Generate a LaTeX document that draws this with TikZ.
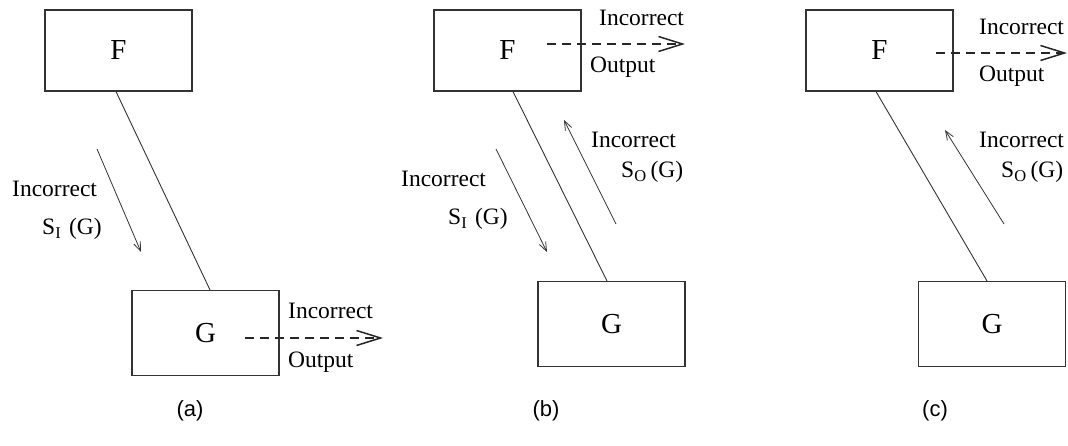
\documentclass[tikz,border=0pt]{standalone}
\usepackage{fontspec}
\setmainfont{Liberation Serif}
\setsansfont{Liberation Sans}
\usetikzlibrary{arrows.meta}
\begin{document}
\begin{tikzpicture}[x=1pt, y=-1pt, line cap=butt,
  fbox/.style={draw=black!80, line width=1.1pt, minimum width=147pt, minimum height=81pt, inner sep=0pt, font=\fontsize{29}{34}\selectfont},
  gbox/.style={fbox, minimum height=85pt},
  lbl/.style={anchor=base west, inner sep=0pt, font=\fontsize{23.5}{28}\selectfont},
  capt/.style={inner sep=0pt, font=\sffamily\fontsize{22}{26}\selectfont},
  link/.style={draw=black!80, line width=0.9pt},
  sig/.style={draw=black!80, line width=0.8pt, -{Straight Barb[length=9pt,width=7pt]}},
  outp/.style={draw=black!85, line width=1.1pt, dash pattern=on 9pt off 6pt, -{Straight Barb[length=24pt,width=15pt,line width=1.5pt]}}]
\useasboundingbox (0,0) rectangle (1068,446);
% (a) incorrect input to G
\begin{scope}
\node[fbox] (Fa) at (118.5,50.5) {F};
\node[gbox] (Ga) at (205.5,333) {G};
\draw[link] ([xshift=-2.5pt]Fa.south) -- ([xshift=4.5pt]Ga.north);
\coordinate (sia1) at (97,149);
\coordinate (sia2) at (141,252);
\draw[sig] (sia1) -- (sia2);
\node[lbl] (sial) at (12,197) {Incorrect};
\node[lbl] (sias) at (42,235) {S\textsubscript{I}\,\,(G)};
\coordinate (oa1) at (245,338);
\coordinate (oa2) at (383,338);
\draw[outp] (oa1) -- (oa2);
\node[lbl] (oal) at (288,319) {Incorrect};
\node[lbl] (oao) at (288,367) {Output};
\node[capt] (capa) at (190,411) {(a)};
\end{scope}
% (b) incorrect input and output of G
\begin{scope}[xshift=380pt]
\node[fbox] (Fb) at (127.5,50.5) {F};
\node[gbox] (Gb) at (231.5,324) {G};
\draw[link] ([xshift=5.5pt]Fb.south) -- ([xshift=-4.5pt]Gb.north);
\coordinate (sib1) at (116,149);
\coordinate (sib2) at (167,252);
\draw[sig] (sib1) -- (sib2);
\node[lbl] (sibl) at (21,187) {Incorrect};
\node[lbl] (sibs) at (68,225) {S\textsubscript{I}\,\,(G)};
\coordinate (sob1) at (236,224);
\coordinate (sob2) at (184,120);
\draw[sig] (sob1) -- (sob2);
\node[lbl] (sobl) at (211,148) {Incorrect};
\node[lbl] (sobs) at (241,178) {S\textsubscript{O}\,(G)};
\coordinate (ob1) at (167,44);
\coordinate (ob2) at (305,44);
\draw[outp] (ob1) -- (ob2);
\node[lbl] (obl) at (219,26) {Incorrect};
\node[lbl] (obo) at (210,73) {Output};
\node[capt] (capb) at (166,411) {(b)};
\end{scope}
% (c) incorrect output of G
\begin{scope}[xshift=700pt]
\node[fbox] (Fc) at (179.5,50.5) {F};
\node[gbox] (Gc) at (292,324) {G};
\draw[link] ([xshift=-3.5pt]Fc.south) -- ([xshift=-5pt]Gc.north);
\coordinate (soc1) at (304,224);
\coordinate (soc2) at (245,130);
\draw[sig] (soc1) -- (soc2);
\node[lbl] (socl) at (279,148) {Incorrect};
\node[lbl] (socs) at (301,178) {S\textsubscript{O}\,(G)};
\coordinate (oc1) at (236,53);
\coordinate (oc2) at (367,53);
\draw[outp] (oc1) -- (oc2);
\node[lbl] (ocl) at (279,35) {Incorrect};
\node[lbl] (oco) at (279,82) {Output};
\node[capt] (capc) at (235,411) {(c)};
\end{scope}
\end{tikzpicture}
\end{document}
